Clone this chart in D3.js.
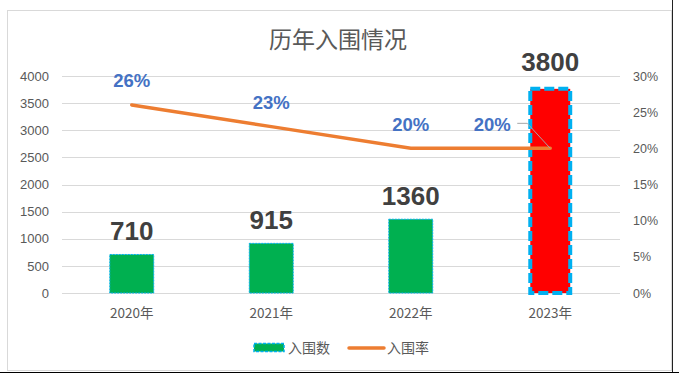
<!DOCTYPE html>
<html><head><meta charset="utf-8">
<script src="https://cdn.jsdelivr.net/npm/d3@7"></script>
<style>body{margin:0;background:#fff}svg{display:block;font-family:"Noto Sans CJK SC","Noto Sans",sans-serif}</style>
</head><body>
<script>
const categories = ["2020年","2021年","2022年","2023年"];
const counts = [710, 915, 1360, 3800];
const rates = [0.26, 0.23, 0.20, 0.20];
const leftTicks = [0,500,1000,1500,2000,2500,3000,3500,4000];
const rightTicks = [0,0.05,0.10,0.15,0.20,0.25,0.30];
const title = "历年入围情况";
const seriesNames = ["入围数","入围率"];

const W=679,H=382;
const svg=d3.select("body").append("svg").attr("width",W).attr("height",H);
svg.append("rect").attr("x",7.5).attr("y",10.5).attr("width",664).attr("height",360)
  .attr("fill","#fff").attr("stroke","#d9d9d9").attr("stroke-width",1);
svg.append("line").attr("x1",0).attr("x2",W).attr("y1",372.5).attr("y2",372.5).attr("stroke","#000").attr("stroke-width",1);
svg.append("line").attr("x1",672.5).attr("x2",672.5).attr("y1",0).attr("y2",372).attr("stroke","#222").attr("stroke-width",1);

const x=d3.scaleBand().domain(categories).range([62,620]).paddingInner(0.685).paddingOuter(0.3425);
const y=d3.scaleLinear().domain([0,4000]).range([293,76]);
const y2=d3.scaleLinear().domain([0,0.30]).range([293,76]);

svg.append("text").attr("x",338).attr("y",48).attr("text-anchor","middle")
  .attr("font-size",23).attr("fill","#595959").text(title);

// gridlines
svg.append("g").selectAll("line").data(leftTicks).join("line")
  .attr("x1",62).attr("x2",620).attr("y1",d=>Math.round(y(d))+0.5).attr("y2",d=>Math.round(y(d))+0.5)
  .attr("stroke","#d9d9d9").attr("stroke-width",1);

// left axis
const la=svg.append("g").attr("transform","translate(49,0)")
  .call(d3.axisLeft(y).tickValues(leftTicks).tickSize(0).tickPadding(0).tickFormat(d3.format("d")));
la.select(".domain").remove();
la.selectAll("text").attr("font-size",13).attr("fill","#595959").attr("font-family","Liberation Sans, Arial, sans-serif");

// right axis
const ra=svg.append("g").attr("transform","translate(633,0)")
  .call(d3.axisRight(y2).tickValues(rightTicks).tickSize(0).tickPadding(0).tickFormat(d3.format(".0%")));
ra.select(".domain").remove();
ra.selectAll("text").attr("font-size",12.5).attr("fill","#595959").attr("font-family","Liberation Sans, Arial, sans-serif");

// x axis labels
svg.append("g").selectAll("text").data(categories).join("text")
  .attr("x",d=>x(d)+x.bandwidth()/2).attr("y",318).attr("text-anchor","middle")
  .attr("font-size",13.5).attr("fill","#595959").text(d=>d);

// bars
const last=categories.length-1;
svg.append("g").selectAll("rect").data(counts).join("rect")
  .attr("x",(d,i)=>x(categories[i])+(i===last?2:0))
  .attr("width",(d,i)=>x.bandwidth()-(i===last?4:0))
  .attr("y",(d,i)=>y(d)+(i===last?2:0))
  .attr("height",(d,i)=>y(0)-y(d)-(i===last?2:0))
  .attr("fill",(d,i)=>i===last?"#ff0000":"#00b050")
  .attr("stroke","#00b0f0")
  .attr("stroke-width",(d,i)=>i===last?4:1)
  .attr("stroke-dasharray",(d,i)=>i===last?"10,4":"2,1");

// line
const pts=rates.map((r,i)=>[x(categories[i])+x.bandwidth()/2,y2(r)]);
svg.append("path").attr("d",d3.line()(pts)).attr("fill","none")
  .attr("stroke","#ed7d31").attr("stroke-width",3.5).attr("stroke-linecap","round");

// leader line for last rate label
const lp=pts[last];
svg.append("polyline").attr("points",`${lp[0]-33},${lp[1]-25} ${lp[0]-23},${lp[1]-25} ${lp[0]},${lp[1]}`)
  .attr("fill","none").attr("stroke","#a6a6a6").attr("stroke-width",1);

// rate labels
const rateOffsets=[[0,-18],[0,-18],[0,-17],[-58,-17]];
svg.append("g").selectAll("text").data(rates).join("text")
  .attr("x",(d,i)=>pts[i][0]+rateOffsets[i][0]).attr("y",(d,i)=>pts[i][1]+rateOffsets[i][1])
  .attr("text-anchor","middle").attr("font-size",18.5).attr("font-weight","bold")
  .attr("fill","#4472c4").attr("font-family","Liberation Sans, Arial, sans-serif")
  .text(d=>d3.format(".0%")(d));

// count labels
svg.append("g").selectAll("text").data(counts).join("text")
  .attr("x",(d,i)=>x(categories[i])+x.bandwidth()/2).attr("y",(d,i)=>y(d)-(i===last?16:14))
  .attr("text-anchor","middle").attr("font-size",26).attr("font-weight","bold")
  .attr("fill","#404040").attr("font-family","Liberation Sans, Arial, sans-serif")
  .text(d=>d);

// legend
const lg=svg.append("g");
lg.append("rect").attr("x",254).attr("y",343.5).attr("width",30).attr("height",8)
  .attr("fill","#00b050").attr("stroke","#00b0f0").attr("stroke-width",1.5).attr("stroke-dasharray","3,1.5");
lg.append("text").attr("x",288).attr("y",353).attr("font-size",14).attr("fill","#595959").text(seriesNames[0]);
lg.append("line").attr("x1",349).attr("x2",384).attr("y1",348).attr("y2",348)
  .attr("stroke","#ed7d31").attr("stroke-width",3.5).attr("stroke-linecap","round");
lg.append("text").attr("x",387).attr("y",353).attr("font-size",14).attr("fill","#595959").text(seriesNames[1]);
</script>
</body></html>
